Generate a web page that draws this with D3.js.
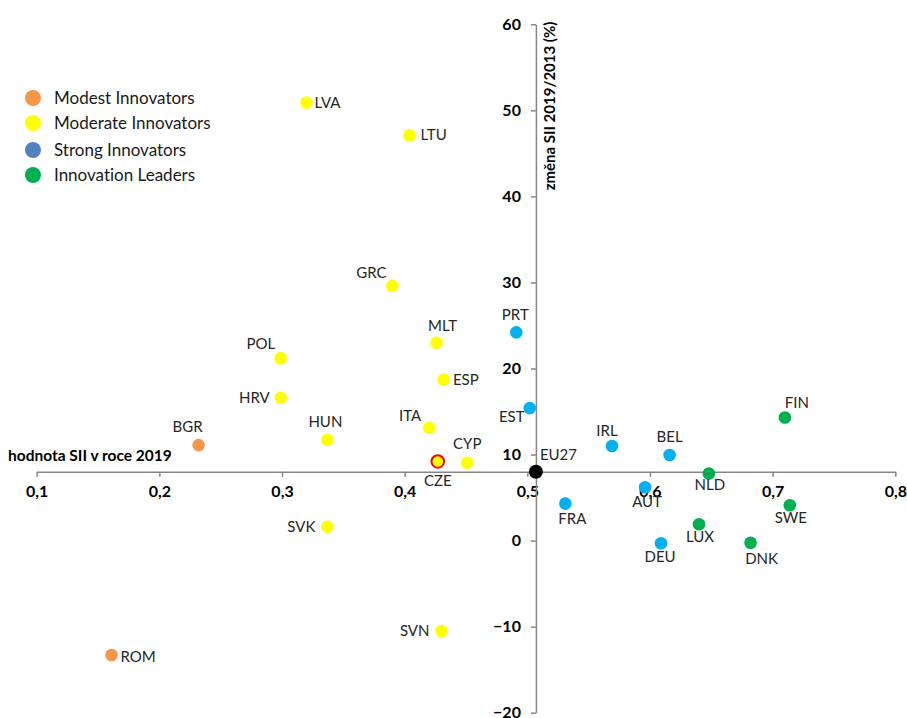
<!DOCTYPE html>
<html><head><meta charset="utf-8">
<script src="https://cdn.jsdelivr.net/npm/d3@7"></script>
<style>
body{margin:0;background:#fff;}
svg{display:block;font-family:Lato,"Liberation Sans",sans-serif;font-variant-ligatures:none;}
</style></head>
<body><svg id="c" width="907" height="718"></svg>
<script>
const countries = ["LVA","LTU","GRC","MLT","POL","ESP","HRV","HUN","ITA","BGR","CYP","CZE","SVK","SVN","ROM","PRT","EST","IRL","BEL","AUT","FRA","DEU","EU27","FIN","NLD","SWE","LUX","DNK"];
const sii2019 = [0.320,0.404,0.390,0.426,0.299,0.432,0.299,0.337,0.420,0.232,0.451,0.427,0.337,0.430,0.161,0.491,0.502,0.569,0.616,0.596,0.531,0.609,0.507,0.710,0.648,0.714,0.640,0.682];
const change = [50.9,47.1,29.6,23.0,21.2,18.7,16.6,11.7,13.1,11.1,9.05,9.2,1.6,-10.5,-13.3,24.2,15.4,11.0,9.95,6.2,4.3,-0.3,8.0,14.3,7.8,4.1,1.9,-0.25];
const groups = ["Moderate","Moderate","Moderate","Moderate","Moderate","Moderate","Moderate","Moderate","Moderate","Modest","Moderate","CZE","Moderate","Moderate","Modest","Strong","Strong","Strong","Strong","Strong","Strong","Strong","EU","Leader","Leader","Leader","Leader","Leader"];
// label placement: [dx, dy, anchor]
const labelPos = {LVA:[8,5,"start"],LTU:[11,5,"start"],GRC:[-21,-8,"middle"],MLT:[6,-12,"middle"],POL:[-20,-9,"middle"],ESP:[9,5,"start"],HRV:[-11,5,"end"],HUN:[-2,-13,"middle"],ITA:[-19,-7,"middle"],BGR:[-11,-13,"middle"],CYP:[0,-14,"middle"],CZE:[0,25,"middle"],SVK:[-12,5,"end"],SVN:[-12,5,"end"],ROM:[9,7,"start"],PRT:[-1,-12,"middle"],EST:[-18,14,"middle"],IRL:[-5,-10,"middle"],BEL:[0,-13,"middle"],AUT:[2,20,"middle"],FRA:[7,20,"middle"],DEU:[-1,19,"middle"],EU27:[4,-12,"start"],FIN:[12,-10,"middle"],NLD:[1,17,"middle"],SWE:[1,18,"middle"],LUX:[1,18,"middle"],DNK:[11,21,"middle"]};
const xTicks = [0.1,0.2,0.3,0.4,0.5,0.6,0.7,0.8];
const yTicks = [-20,-10,0,10,20,30,40,50,60];
const legendLabels = ["Modest Innovators","Moderate Innovators","Strong Innovators","Innovation Leaders"];
const legendColors = ["#F79646","#FFFF00","#4F81BD","#00B050"];
const pointColors = {Modest:"#F79646",Moderate:"#FFFF00",Strong:"#00B0F0",Leader:"#00B050",EU:"#000000",CZE:"#FFFF00"};

const svg = d3.select("#c");
const x = d3.scaleLinear().domain([0.1,0.8]).range([36.7,895.3]);
const y = d3.scaleLinear().domain([-20,60]).range([712.7,24.3]);
const axisColor = "#868686";
const fmt = d => d3.format(".1f")(d).replace(".",",");

// x axis at y=8
const xAxisG = svg.append("g").attr("transform",`translate(0,${y(8)})`)
  .call(d3.axisBottom(x).tickValues(xTicks).tickSize(5).tickSizeOuter(0).tickFormat(fmt));
xAxisG.select(".domain").attr("stroke",axisColor).attr("stroke-width",1.5);
xAxisG.selectAll(".tick line").attr("stroke",axisColor).attr("stroke-width",1.5);
xAxisG.selectAll(".tick text").attr("y",14).attr("dy","0.71em").attr("fill","#000")
  .style("font-size","16px").style("font-weight","bold").style("font-family","Lato,sans-serif");

// y axis at EU27 x
const yAxisG = svg.append("g").attr("transform",`translate(${x(0.507)},0)`)
  .call(d3.axisLeft(y).tickValues(yTicks).tickSize(5).tickSizeOuter(0).tickFormat(d3.format("d")));
yAxisG.select(".domain").attr("stroke",axisColor).attr("stroke-width",1.5);
yAxisG.selectAll(".tick text").attr("x",-15).attr("fill","#000")
  .style("font-size","16px").style("font-weight","bold").style("font-family","Lato,sans-serif");
yAxisG.selectAll(".tick line").attr("stroke",axisColor).attr("stroke-width",1.5);

// axis titles
svg.append("text").attr("x",8).attr("y",461).text("hodnota SII v roce 2019")
  .style("font-size","15.5px").style("font-weight","bold").attr("fill","#000");
svg.append("text").attr("transform",`translate(${x(0.507)+19},106) rotate(-90)`)
  .attr("text-anchor","middle").text("změna SII 2019/2013 (%)")
  .style("font-size","15px").style("font-weight","bold").attr("fill","#000");

// points
const data = countries.map((c,i)=>({c, sx:sii2019[i], ch:change[i], g:groups[i]}));
svg.append("g").selectAll("circle").data(data).join("circle")
  .attr("cx",d=>x(d.sx)).attr("cy",d=>y(d.ch))
  .attr("r",d=>d.g==="EU"?7:6.3)
  .attr("fill",d=>pointColors[d.g])
  .attr("stroke",d=>d.g==="CZE"?"#FF0000":"none")
  .attr("stroke-width",2);

svg.append("g").selectAll("text").data(data).join("text")
  .attr("x",d=>x(d.sx)+labelPos[d.c][0]).attr("y",d=>y(d.ch)+labelPos[d.c][1])
  .attr("text-anchor",d=>labelPos[d.c][2])
  .attr("fill","#262626").style("font-size","15px")
  .text(d=>d.c);

// legend
const lg = svg.append("g");
legendLabels.forEach((l,i)=>{
  const yy = [98,123,150,175][i];
  lg.append("circle").attr("cx",33).attr("cy",yy).attr("r",8).attr("fill",legendColors[i]);
  lg.append("text").attr("x",54).attr("y",yy+6).text(l).style("font-size","17px").attr("fill","#1a1a1a");
});
</script></body></html>
